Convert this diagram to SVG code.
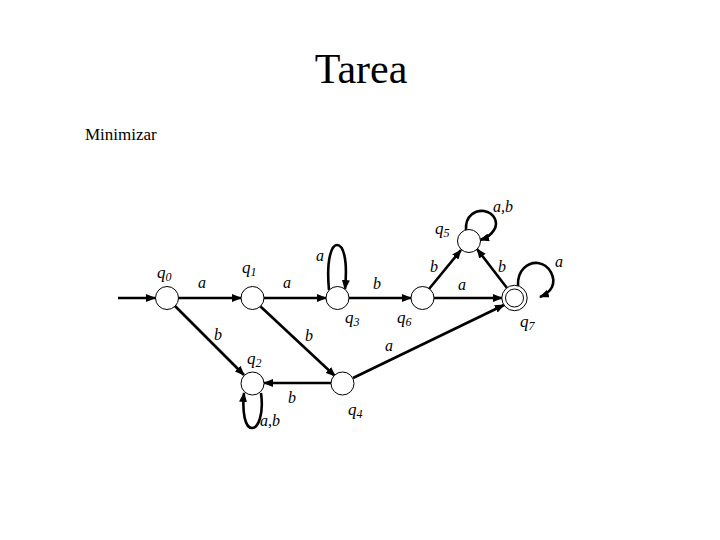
<svg xmlns="http://www.w3.org/2000/svg" width="720" height="540" viewBox="0 0 720 540">
<style>
.node{fill:#fff;stroke:#000;stroke-width:1}
.edge{fill:none;stroke:#000;stroke-width:2.6}
.lbl{font-family:"Liberation Serif",serif;font-style:italic;font-size:16px;fill:#000}
.st{font-family:"Liberation Serif",serif;font-style:italic;font-size:17px;fill:#000}
.sub{font-size:12px}
</style>
<defs>
<marker id="ah" markerUnits="userSpaceOnUse" markerWidth="10" markerHeight="8" refX="9" refY="4" orient="auto">
<path d="M0,0 L10,4 L0,8 z" fill="#000"/>
</marker>
</defs>
<rect width="720" height="540" fill="#fff"/>
<text x="361" y="83" text-anchor="middle" font-family="Liberation Serif,serif" font-size="42">Tarea</text>
<text x="85" y="140" font-family="Liberation Serif,serif" font-size="17">Minimizar</text>
<g id="connectors">
<line class="edge" x1="118" y1="298" x2="155" y2="298" marker-end="url(#ah)"/>
<line class="edge" x1="178" y1="298" x2="241" y2="298" marker-end="url(#ah)"/>
<line class="edge" x1="264" y1="298" x2="326" y2="298" marker-end="url(#ah)"/>
<line class="edge" x1="349" y1="298" x2="411" y2="298" marker-end="url(#ah)"/>
<line class="edge" x1="434" y1="298" x2="502" y2="298" marker-end="url(#ah)"/>
<line class="edge" x1="175" y1="306" x2="244" y2="375" marker-end="url(#ah)"/>
<line class="edge" x1="260" y1="306" x2="335" y2="376" marker-end="url(#ah)"/>
<line class="edge" x1="331" y1="383" x2="264" y2="383" marker-end="url(#ah)"/>
<line class="edge" x1="353" y1="378" x2="504" y2="305" marker-end="url(#ah)"/>
<line class="edge" x1="429" y1="289" x2="461" y2="250" marker-end="url(#ah)"/>
<line class="edge" x1="507" y1="288" x2="477" y2="249" marker-end="url(#ah)"/>
<path class="edge" d="M329,290 C326,258 332,245 337,245 C343,245 348,258 345,289" marker-end="url(#ah)"/>
<path class="edge" d="M466,230 C465,215 476,210 484,211 C494,213 499,222 494,230 C491,235 487,238 480,240" marker-end="url(#ah)"/>
<path class="edge" d="M518,286 C517,270 528,262 538,263 C550,265 556,278 552,287 C549,293 545,295 540,297" marker-end="url(#ah)"/>
<path class="edge" d="M261,393 C264,415 258,428 252,428 C245,428 242,412 244,393" marker-end="url(#ah)"/>
</g>
<g id="q0"><circle class="node" cx="167" cy="298" r="11.5"/><text class="st" x="157" y="278">q<tspan class="sub" dy="3">0</tspan></text></g>
<g id="q1"><circle class="node" cx="252.5" cy="298" r="11.5"/><text class="st" x="242" y="273">q<tspan class="sub" dy="3">1</tspan></text></g>
<g id="q2"><circle class="node" cx="252.5" cy="383.5" r="11.5"/><text class="st" x="247" y="364">q<tspan class="sub" dy="3">2</tspan></text></g>
<g id="q3"><circle class="node" cx="337.5" cy="298" r="11.5"/><text class="st" x="345" y="323">q<tspan class="sub" dy="3">3</tspan></text></g>
<g id="q4"><circle class="node" cx="342.5" cy="383.5" r="11.5"/><text class="st" x="348" y="415">q<tspan class="sub" dy="3">4</tspan></text></g>
<g id="q5"><circle class="node" cx="469" cy="241" r="11.5"/><text class="st" x="435" y="234">q<tspan class="sub" dy="3">5</tspan></text></g>
<g id="q6"><circle class="node" cx="422.5" cy="298" r="11.5"/><text class="st" x="397" y="323">q<tspan class="sub" dy="3">6</tspan></text></g>
<g id="q7"><circle class="node" cx="514.5" cy="298" r="12.7"/><circle class="node" cx="514.5" cy="298" r="9"/><text class="st" x="520" y="327">q<tspan class="sub" dy="3">7</tspan></text></g>
<g id="labels">
<text class="lbl" x="202" y="288" text-anchor="middle">a</text>
<text class="lbl" x="287" y="288" text-anchor="middle">a</text>
<text class="lbl" x="320" y="261" text-anchor="middle">a</text>
<text class="lbl" x="377" y="289" text-anchor="middle">b</text>
<text class="lbl" x="309" y="341" text-anchor="middle">b</text>
<text class="lbl" x="218" y="340" text-anchor="middle">b</text>
<text class="lbl" x="434" y="272" text-anchor="middle">b</text>
<text class="lbl" x="462" y="290" text-anchor="middle">a</text>
<text class="lbl" x="502" y="272" text-anchor="middle">b</text>
<text class="lbl" x="559" y="267" text-anchor="middle">a</text>
<text class="lbl" x="503" y="212" text-anchor="middle">a,b</text>
<text class="lbl" x="389" y="351" text-anchor="middle">a</text>
<text class="lbl" x="292" y="403" text-anchor="middle">b</text>
<text class="lbl" x="260" y="426">a,b</text>
</g>
</svg>
